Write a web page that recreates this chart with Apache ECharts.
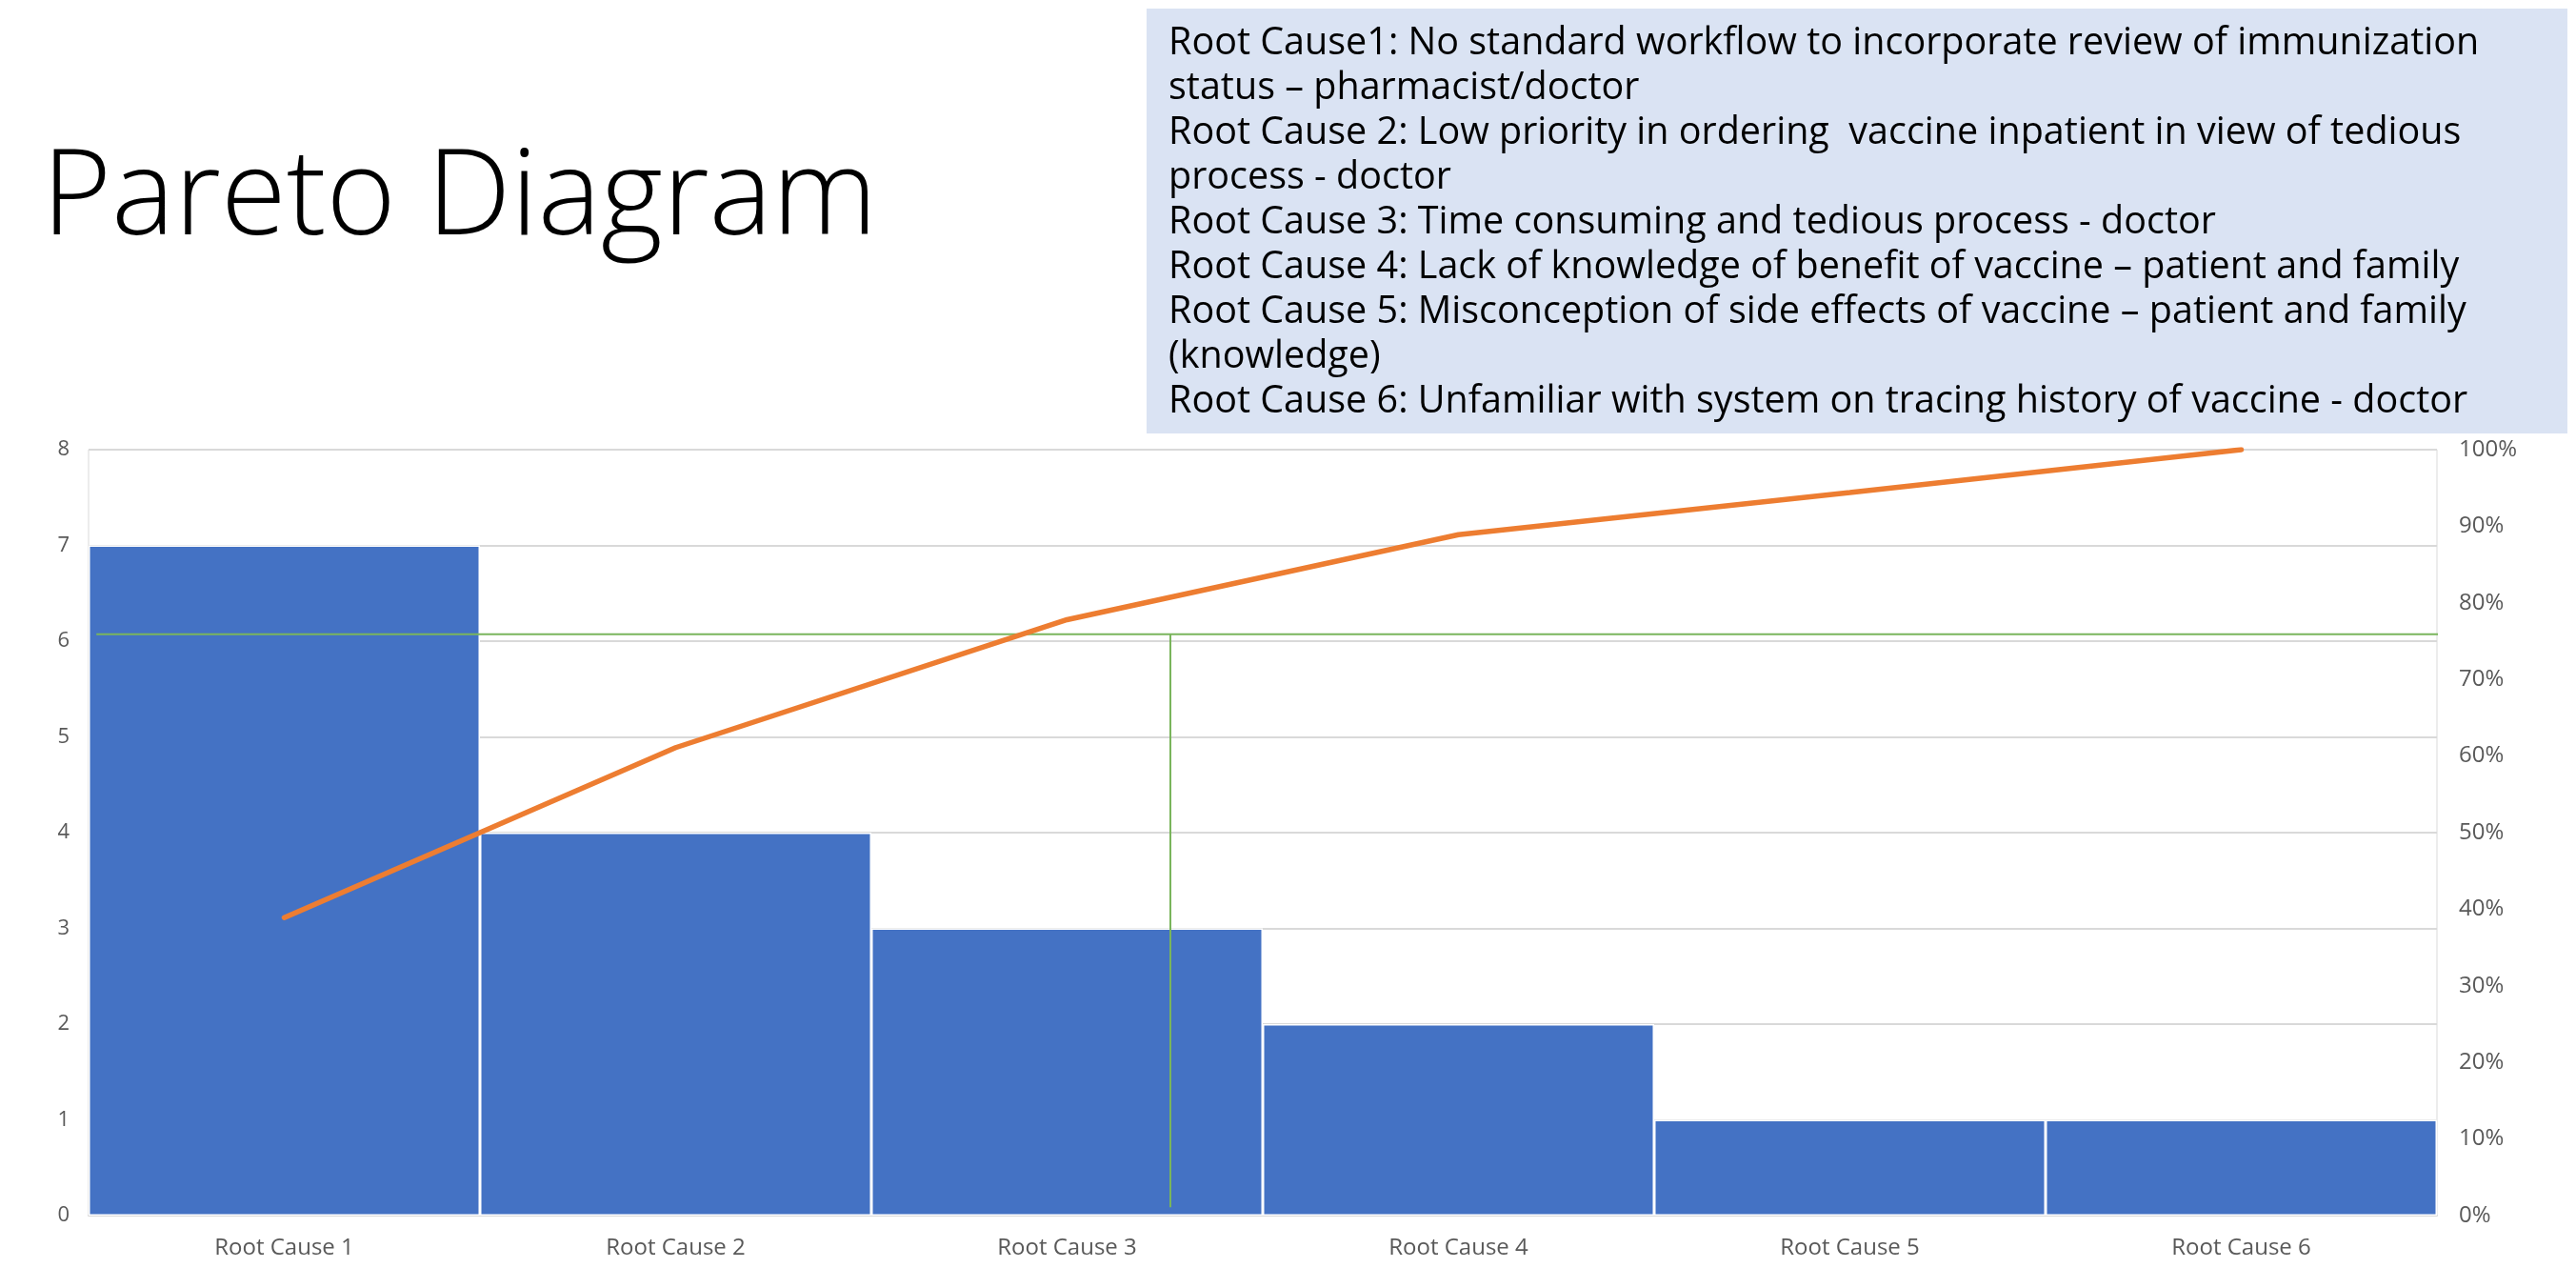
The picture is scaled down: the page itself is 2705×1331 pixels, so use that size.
<!DOCTYPE html>
<html>
<head>
<meta charset="utf-8">
<script src="https://cdn.jsdelivr.net/npm/echarts@6/dist/echarts.min.js"></script>
<style>
html,body{margin:0;padding:0;background:#fff;}
#chart{width:2705px;height:1331px;}
</style>
</head>
<body>
<div id="chart"></div>
<script>
// ---- data ----
const categories = ['Root Cause 1','Root Cause 2','Root Cause 3','Root Cause 4','Root Cause 5','Root Cause 6'];
const counts = [7, 4, 3, 2, 1, 1];
const cumulativePct = [38.9, 61.1, 77.8, 88.9, 94.4, 100];
const leftTicks = {min: 0, max: 8, interval: 1};
const rightTicks = {min: 0, max: 100, interval: 10};
// hand-drawn green guide lines (x in category-band units 0..6, y in percent)
const guideHorizontal = [[0.02, 75.9], [6.07, 75.9]];
const guideVertical = [[2.764, 75.9], [2.764, 1.1]];
const titleText = 'Pareto Diagram';
const notesLines = [
  'Root Cause1: No standard workflow to incorporate review of immunization',
  'status \u2013 pharmacist/doctor',
  'Root Cause 2: Low priority in ordering  vaccine inpatient in view of tedious',
  'process - doctor',
  'Root Cause 3: Time consuming and tedious process - doctor',
  'Root Cause 4: Lack of knowledge of benefit of vaccine \u2013 patient and family',
  'Root Cause 5: Misconception of side effects of vaccine \u2013 patient and family',
  '(knowledge)',
  'Root Cause 6: Unfamiliar with system on tracing history of vaccine - doctor'
];

const chart = echarts.init(document.getElementById('chart'), null, {renderer: 'canvas'});
const labelColor = '#595959';
const gridColor = '#d9d9d9';
const green = '#7ab55c';

chart.setOption({
  animation: false,
  backgroundColor: '#ffffff',
  textStyle: {fontFamily: 'Open Sans'},
  title: {
    text: titleText,
    left: 44,
    top: 148,
    padding: 0,
    textStyle: {fontFamily: 'Open Sans', fontWeight: 300, fontSize: 125, color: '#000000'}
  },
  graphic: [
    {type: 'rect', left: 1204, top: 9, shape: {width: 1492, height: 446}, style: {fill: '#dae3f3'}, z: 0},
    {type: 'text', left: 1227, top: 22, z: 1,
     style: {text: notesLines.join('\n'), fontFamily: 'Open Sans', fontSize: 39.5, lineHeight: 47, fill: '#000000'}}
  ],
  grid: {left: 93, right: 146, top: 472, bottom: 55, show: true, borderColor: gridColor, borderWidth: 1, backgroundColor: 'transparent'},
  xAxis: [
    {type: 'category', data: categories, boundaryGap: true,
     axisLine: {show: true, lineStyle: {color: gridColor, width: 2}},
     axisTick: {show: false},
     axisLabel: {color: labelColor, fontSize: 24, margin: 22, fontFamily: 'Open Sans'}},
    {type: 'value', min: 0, max: 6, show: false}
  ],
  yAxis: [
    {type: 'value', min: leftTicks.min, max: leftTicks.max, interval: leftTicks.interval,
     axisLine: {show: false}, axisTick: {show: false},
     splitLine: {lineStyle: {color: gridColor, width: 2}},
     axisLabel: {color: labelColor, fontSize: 22, margin: 20}},
    {type: 'value', min: rightTicks.min, max: rightTicks.max, interval: rightTicks.interval, position: 'right',
     axisLine: {show: false}, axisTick: {show: false}, splitLine: {show: false},
     axisLabel: {color: labelColor, fontSize: 24, margin: 23, formatter: '{value}%'}}
  ],
  series: [
    {type: 'bar', data: counts, barCategoryGap: '0%', xAxisIndex: 0, yAxisIndex: 0,
     itemStyle: {color: '#4472c4', borderColor: '#ffffff', borderWidth: 1.5}, z: 2},
    {type: 'line', data: cumulativePct, xAxisIndex: 0, yAxisIndex: 1, symbol: 'none',
     lineStyle: {color: '#ed7d31', width: 5.5, cap: 'round'}, z: 4},
    {type: 'line', data: guideHorizontal, xAxisIndex: 1, yAxisIndex: 1, symbol: 'none', clip: false,
     lineStyle: {color: green, width: 2}, z: 3},
    {type: 'line', data: guideVertical, xAxisIndex: 1, yAxisIndex: 1, symbol: 'none', clip: false,
     lineStyle: {color: green, width: 2}, z: 3}
  ]
});
</script>
</body>
</html>
